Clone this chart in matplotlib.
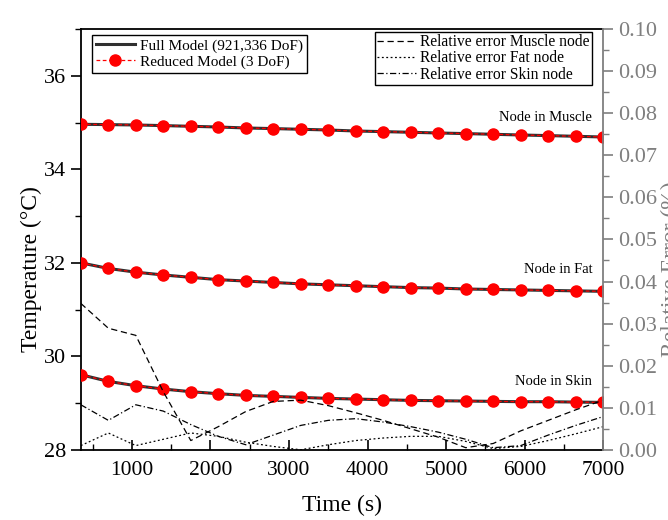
import numpy as np
import matplotlib
matplotlib.use("Agg")
import matplotlib.pyplot as plt
from matplotlib.ticker import MultipleLocator

plt.rcParams["font.family"] = "serif"
plt.rcParams["font.serif"] = ["Liberation Serif", "DejaVu Serif"]

# time steps (s)
time = [350, 700, 1050, 1400, 1750, 2100, 2450, 2800, 3150, 3500,
        3850, 4200, 4550, 4900, 5250, 5600, 5950, 6300, 6650, 7000]

# temperatures (°C), full and reduced model overlap
temp_muscle = [34.964, 34.957, 34.949, 34.936, 34.921, 34.906, 34.885, 34.872, 34.857, 34.842,
               34.820, 34.807, 34.793, 34.778, 34.765, 34.750, 34.735, 34.722, 34.707, 34.692]
temp_fat = [32.00, 31.88, 31.80, 31.74, 31.69, 31.64, 31.61, 31.58, 31.55, 31.53,
            31.51, 31.49, 31.47, 31.46, 31.44, 31.43, 31.42, 31.41, 31.40, 31.39]
temp_skin = [29.607, 29.464, 29.371, 29.300, 29.243, 29.200, 29.164, 29.143, 29.121, 29.100,
             29.086, 29.071, 29.057, 29.050, 29.043, 29.036, 29.029, 29.029, 29.021, 29.014]

# relative errors (%)
err_muscle = [0.0348, 0.0289, 0.0272, 0.0138, 0.0022, 0.0055, 0.0091, 0.0115, 0.0118, 0.0105,
              0.0088, 0.0070, 0.0050, 0.0030, 0.0005, 0.0015, 0.0045, 0.0070, 0.0095, 0.0118]
err_fat = [0.0010, 0.0040, 0.0010, 0.0025, 0.0040, 0.0032, 0.0018, 0.0008, 0.0000, 0.0012,
           0.0022, 0.0028, 0.0032, 0.0032, 0.0020, 0.0003, 0.0008, 0.0022, 0.0038, 0.0055]
err_skin = [0.0107, 0.0070, 0.0107, 0.0092, 0.0060, 0.0032, 0.0012, 0.0035, 0.0058, 0.0070,
            0.0074, 0.0066, 0.0055, 0.0042, 0.0025, 0.0005, 0.0010, 0.0035, 0.0058, 0.0079]

gray = "#7f7f7f"

fig = plt.figure(figsize=(6.68, 5.20), dpi=100)
ax = fig.add_axes([0.121, 0.135, 0.782, 0.809])
ax2 = ax.twinx()

for temps in (temp_muscle, temp_fat, temp_skin):
    ax.plot(time, temps, color="#303030", lw=2.2, zorder=2)
    ax.plot(time, temps, color="red", lw=0.9, ls=(0, (3, 2)), marker="o", ms=8,
            mec="red", mfc="red", zorder=3)

ax.set_xlim(350, 7000)
ax.set_ylim(28, 37)
ax.xaxis.set_major_locator(MultipleLocator(1000))
ax.xaxis.set_minor_locator(MultipleLocator(500))
ax.yaxis.set_major_locator(MultipleLocator(2))
ax.yaxis.set_minor_locator(MultipleLocator(1))
ax.tick_params(axis="x", which="both", direction="in", labelsize=15.5, pad=8)
ax.tick_params(axis="x", which="major", length=7, width=1.2)
ax.tick_params(axis="x", which="minor", length=4, width=1.0)
ax.tick_params(axis="y", which="both", direction="out", labelsize=16)
ax.tick_params(axis="y", which="major", length=7, width=1.2)
ax.tick_params(axis="y", which="minor", length=4, width=1.0)
ax.set_xlabel("Time (s)", fontsize=17, labelpad=11)
ax.set_ylabel("Temperature (°C)", fontsize=17)
ax.yaxis.set_label_coords(-0.074, 0.43)
for side in ("left", "bottom", "top"):
    ax.spines[side].set_linewidth(1.3)
ax.spines["right"].set_visible(False)

ax.text(6860, 35.11, "Node in Muscle", ha="right", va="center", fontsize=10.5)
ax.text(6860, 31.86, "Node in Fat", ha="right", va="center", fontsize=10.5)
ax.text(6860, 29.46, "Node in Skin", ha="right", va="center", fontsize=10.5)

ax2.plot(time, err_muscle, color="black", lw=0.9, ls=(0, (5, 3)))
ax2.plot(time, err_fat, color="black", lw=0.9, ls=(0, (1.5, 2)))
ax2.plot(time, err_skin, color="black", lw=0.9, ls=(0, (5, 2, 1, 2)))
ax2.set_ylim(0, 0.10)
ax2.yaxis.set_major_locator(MultipleLocator(0.01))
ax2.yaxis.set_minor_locator(MultipleLocator(0.005))
ax2.yaxis.set_major_formatter(plt.FormatStrFormatter("%.2f"))
ax2.tick_params(axis="y", which="both", direction="out", colors=gray, labelsize=16)
ax2.tick_params(axis="y", which="major", length=7, width=1.2)
ax2.tick_params(axis="y", which="minor", length=4, width=1.0)
ax2.spines["right"].set_color(gray)
ax2.spines["right"].set_linewidth(1.3)
for side in ("left", "bottom", "top"):
    ax2.spines[side].set_visible(False)
ax2.set_ylabel("Relative Error (%)", fontsize=17, color=gray)
ax2.yaxis.set_label_coords(1.11, 0.43)

h_full, = ax.plot([], [], color="#303030", lw=2.2)
h_red, = ax.plot([], [], color="red", lw=0.9, ls=(0, (3, 2)), marker="o", ms=8, mec="red")
leg1 = ax.legend([h_full, h_red], ["Full Model (921,336 DoF)", "Reduced Model (3 DoF)"],
                 loc="upper left", bbox_to_anchor=(0.021, 0.986), fontsize=11,
                 frameon=True, fancybox=False, framealpha=1, edgecolor="black",
                 borderpad=0.25, handlelength=2.6, handletextpad=0.3, labelspacing=0.15,
                 borderaxespad=0)
leg1.get_frame().set_linewidth(1.0)

leg2 = ax2.legend(["Relative error Muscle node", "Relative error Fat node",
                   "Relative error Skin node"],
                  loc="upper right", bbox_to_anchor=(0.979, 0.994), fontsize=11.2,
                  frameon=True, fancybox=False, framealpha=1, edgecolor="black",
                  borderpad=0.15, handlelength=2.5, handletextpad=0.3, labelspacing=0.02,
                  borderaxespad=0)
leg2.get_frame().set_linewidth(1.0)

fig.savefig("out.png", dpi=100)
